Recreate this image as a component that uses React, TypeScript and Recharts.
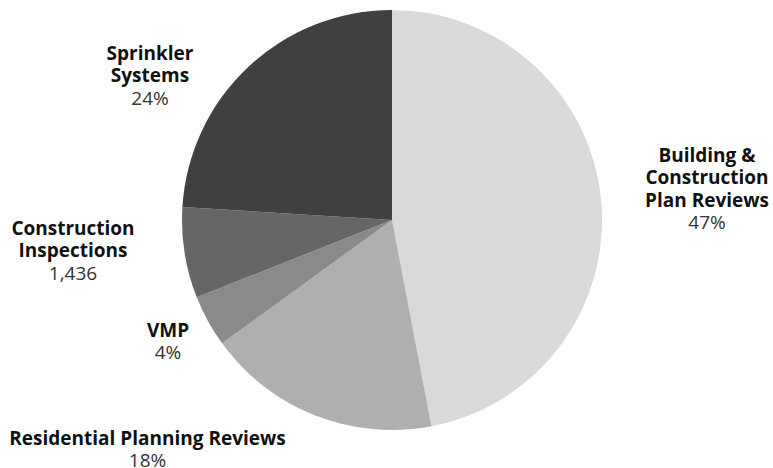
import { PieChart, Pie, Cell } from "recharts";

const CATEGORIES = [
  "Building & Construction Plan Reviews",
  "Residential Planning Reviews",
  "VMP",
  "Construction Inspections",
  "Sprinkler Systems",
];
const VALUES = [9650, 3700, 820, 1436, 4930];
const COLORS = ["#d9d9d9", "#afafaf", "#8a8a8a", "#666666", "#404040"];
const LABEL_LINES = [
  ["Building &", "Construction", "Plan Reviews"],
  ["Residential Planning Reviews"],
  ["VMP"],
  ["Construction", "Inspections"],
  ["Sprinkler", "Systems"],
];
const SHOW_RAW = [false, false, false, true, false];
// label block placement, relative to pie centre (centre x, first line y)
const LABEL_OFFSET = [
  [315, -65],
  [-244.5, 218],
  [-224, 110],
  [-319, 8],
  [-242, -167],
];

const data = CATEGORIES.map((name, i) => ({ name, value: VALUES[i] }));
const total = VALUES.reduce((a, b) => a + b, 0);
const LH = 22.3;

function renderLabel(props: any) {
  const { cx, cy, index } = props;
  const [dx, dy] = LABEL_OFFSET[index];
  const x = cx + dx;
  const y0 = cy + dy;
  const lines = LABEL_LINES[index];
  const sub = SHOW_RAW[index]
    ? VALUES[index].toLocaleString("en-US")
    : Math.round((VALUES[index] / total) * 100) + "%";
  return (
    <g>
      {lines.map((t, k) => (
        <text
          key={k}
          x={x}
          y={y0 + k * LH}
          textAnchor="middle"
          dominantBaseline="central"
          fontFamily="'Open Sans', sans-serif"
          fontWeight={700}
          fontSize={19}
          fill="#111"
        >
          {t}
        </text>
      ))}
      <text
        x={x}
        y={y0 + lines.length * LH}
        textAnchor="middle"
        dominantBaseline="central"
        fontFamily="'Open Sans', sans-serif"
        fontSize={19}
        fill="#333"
      >
        {sub}
      </text>
    </g>
  );
}

export default function App() {
  return (
    <div style={{ position: "absolute", left: 0, top: 0, background: "#fff" }}>
      <PieChart width={773} height={468} margin={{ top: 0, right: 0, bottom: 0, left: 0 }}>
        <Pie
          data={data}
          dataKey="value"
          nameKey="name"
          cx={392}
          cy={220}
          outerRadius={210}
          startAngle={90}
          endAngle={-270}
          stroke="none"
          label={renderLabel}
          labelLine={false}
          isAnimationActive={false}
        >
          {data.map((_, i) => (
            <Cell key={i} fill={COLORS[i]} />
          ))}
        </Pie>
      </PieChart>
    </div>
  );
}
